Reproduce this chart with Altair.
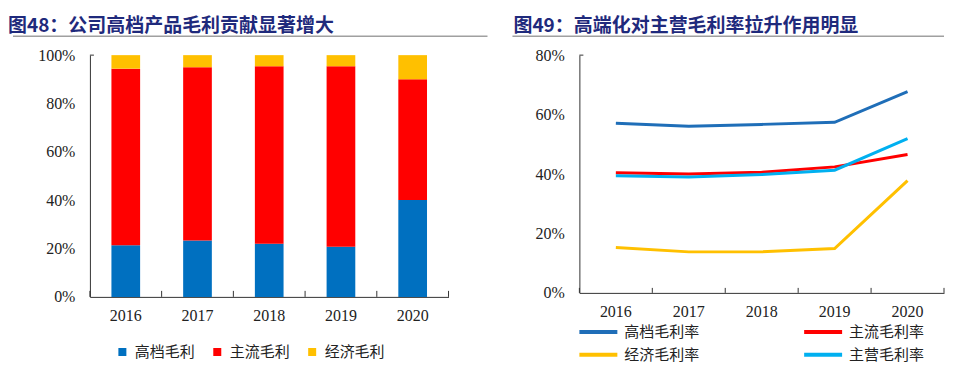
import altair as alt
import pandas as pd

# ---------------- data ----------------
years = ["2016", "2017", "2018", "2019", "2020"]

# 图48: gross-profit contribution share (%)
share_names = ["高档毛利", "主流毛利", "经济毛利"]
share_colors = ["#0070C0", "#FF0000", "#FFC000"]
high_share = [21.4, 23.3, 22.0, 20.7, 40.1]
main_share = [73.0, 71.7, 73.4, 74.7, 49.9]
econ_share = [5.6, 5.0, 4.6, 4.6, 10.0]

# 图49: gross margin (%)
margin_names = ["高档毛利率", "主流毛利率", "经济毛利率", "主营毛利率"]
margin_colors = ["#1F6EB8", "#FF0000", "#FFC000", "#00B0F0"]
margin_high = [57.1, 56.1, 56.7, 57.4, 67.7]
margin_main = [40.4, 40.0, 40.6, 42.4, 46.6]
margin_econ = [15.3, 13.8, 13.8, 14.9, 37.8]
margin_total = [39.4, 39.0, 39.8, 41.3, 51.9]
# legend reading order (filled column by column, two columns)
legend_order = ["高档毛利率", "经济毛利率", "主流毛利率", "主营毛利率"]

left_ticks_vals = [0, 0.2, 0.4, 0.6, 0.8, 1.0]
right_ticks_vals = [0, 0.2, 0.4, 0.6, 0.8]

title_left = "图48：公司高档产品毛利贡献显著增大"
title_right = "图49：高端化对主营毛利率拉升作用明显"

# ---------------- tables ----------------
bar_rows = []
for k, (name, vals) in enumerate(zip(share_names, [high_share, main_share, econ_share])):
    for y, v in zip(years, vals):
        bar_rows.append({"year": y, "series": name, "value": v / 100, "k": k})
bars_df = pd.DataFrame(bar_rows)

line_rows = []
for k, (name, vals) in enumerate(zip(margin_names, [margin_high, margin_main, margin_econ, margin_total])):
    for y, v in zip(years, vals):
        line_rows.append({"year": y, "line": name, "value": v / 100, "k": k})
lines_df = pd.DataFrame(line_rows)

year_df = pd.DataFrame({"year": years})
one = pd.DataFrame({"t": [0]})
color_of = dict(zip(margin_names, margin_colors))

# ---------------- style ----------------
CJK = "Noto Sans CJK SC"
SERIF = "Liberation Serif"
NAVY = "#1F2A7C"
AXIS = "#333333"
LABEL = "#222222"

LW, LH = 359, 242
RW, RH = 365, 238


def header(title, tx, rx1, rx2):
    t = alt.Chart(pd.DataFrame({"t": [title]})).mark_text(
        align="left", baseline="alphabetic", font=CJK, fontSize=19, fontWeight="bold", color=NAVY
    ).encode(x=alt.value(tx), y=alt.value(-23.5), text="t:N")
    r = alt.Chart(one).mark_rule(color="#A0A0A0", strokeWidth=1.5).encode(
        x=alt.value(rx1), x2=alt.value(rx2), y=alt.value(-19)
    )
    return [t, r]


def x_axis():
    return alt.Axis(labelAngle=0, ticks=False, domainColor=AXIS, labelFont=SERIF,
                    labelFontSize=16, labelColor=LABEL, labelPadding=11)


def y_axis(vals):
    return alt.Axis(values=vals, format=".0%", ticks=False, grid=False, domainColor=AXIS,
                    labelFont=SERIF, labelFontSize=16, labelColor=LABEL, labelPadding=15)


# ---------------- left panel ----------------
left_step = LW / 5.0
bars = alt.Chart(bars_df).mark_bar().encode(
    x=alt.X("year:N", sort=years, title=None,
            scale=alt.Scale(paddingInner=0.6, paddingOuter=0.3), axis=x_axis()),
    y=alt.Y("value:Q", stack="zero", title=None, scale=alt.Scale(domain=[0, 1]),
            axis=y_axis(left_ticks_vals)),
    color=alt.Color("series:N", sort=share_names,
                    scale=alt.Scale(domain=share_names, range=share_colors),
                    legend=alt.Legend(orient="none", legendX=25, legendY=289.5, direction="horizontal",
                                      title=None, symbolType="square", symbolSize=64,
                                      symbolStrokeWidth=0, clipHeight=15, labelFont=CJK,
                                      labelFontSize=15, labelColor=LABEL, labelOffset=5,
                                      columnPadding=14, padding=0)),
    order=alt.Order("k:Q", sort="ascending"),
)
left_xt = alt.Chart(year_df).mark_rule(color=AXIS, xOffset=-0.3 * left_step).encode(
    x=alt.X("year:N", sort=years, bandPosition=0), y=alt.value(LH), y2=alt.value(LH - 6)
)
left_end = alt.Chart(one).mark_rule(color=AXIS).encode(
    x=alt.value(LW), y=alt.value(LH), y2=alt.value(LH - 6))
left_top = alt.Chart(one).mark_rule(color=AXIS).encode(
    x=alt.value(0), x2=alt.value(4), y=alt.value(0))

left = alt.layer(*header(title_left, -82, -77, 398), bars, left_xt, left_end, left_top).properties(
    width=LW, height=LH)

# ---------------- right panel ----------------
lines = alt.Chart(lines_df).mark_line(strokeWidth=3).encode(
    x=alt.X("year:N", sort=years, title=None, bandPosition=0.5,
            scale=alt.Scale(paddingInner=0, paddingOuter=0), axis=x_axis()),
    y=alt.Y("value:Q", title=None, scale=alt.Scale(domain=[0, 0.8]), axis=y_axis(right_ticks_vals)),
    color=alt.Color("line:N", sort=legend_order,
                    scale=alt.Scale(domain=legend_order, range=[color_of[n] for n in legend_order]),
                    legend=alt.Legend(orient="none", legendX=-2, legendY=269.5, columns=2, title=None,
                                      symbolType="stroke", symbolSize=1444, symbolStrokeWidth=4,
                                      clipHeight=15, labelFont=CJK, labelFontSize=15,
                                      labelColor=LABEL, labelOffset=5, columnPadding=102,
                                      rowPadding=7, padding=0)),
    order=alt.Order("k:Q"),
)
right_xt = alt.Chart(year_df).mark_rule(color=AXIS).encode(
    x=alt.X("year:N", sort=years, bandPosition=0), y=alt.value(RH), y2=alt.value(RH - 5)
)
right_end = alt.Chart(one).mark_rule(color=AXIS).encode(
    x=alt.value(RW), y=alt.value(RH), y2=alt.value(RH - 5))
right_top = alt.Chart(one).mark_rule(color=AXIS).encode(
    x=alt.value(0), x2=alt.value(4), y=alt.value(0))

right = alt.layer(*header(title_right, -66, -67, RW), lines, right_xt, right_end, right_top).properties(
    width=RW, height=RH)

chart = alt.hconcat(left, right, spacing=23).resolve_scale(
    x="independent", y="independent", color="independent"
).properties(
    padding={"left": 0, "top": 8, "right": 0, "bottom": 0}, background="white"
).configure_view(stroke=None)

chart.save("out.html", embed_options={"renderer": "svg", "actions": False})
